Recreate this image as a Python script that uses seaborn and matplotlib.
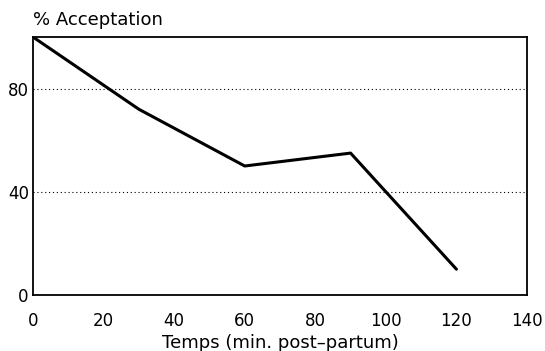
import matplotlib
matplotlib.use("Agg")
import matplotlib.pyplot as plt
import seaborn as sns
import pandas as pd

temps = [0, 30, 60, 90, 120]
acceptation = [100, 72, 50, 55, 10]
x_ticks = [0, 20, 40, 60, 80, 100, 120, 140]
y_ticks = [0, 40, 80]

sns.set_theme(style="white")
plt.rcParams['font.family'] = ['DejaVu Sans']

df = pd.DataFrame({"temps": temps, "acc": acceptation})

fig = plt.figure(figsize=(5.45, 3.51), dpi=100)
ax = fig.add_axes([33/545, 56/351, (527-33)/545, (295-37)/351])

sns.lineplot(data=df, x="temps", y="acc", ax=ax, color="black", linewidth=2.2)

ax.set_xlim(0, 140)
ax.set_ylim(0, 100)
ax.set_xticks(x_ticks)
ax.set_yticks(y_ticks)
ax.tick_params(axis="both", direction="in", length=4, width=1, color="black",
               labelsize=12, labelcolor="black", pad=3)
ax.tick_params(axis="x", pad=12)
for y in [40, 80]:
    ax.axhline(y, color="black", linestyle=(0, (1, 2.5)), linewidth=0.8, zorder=0)

for s in ax.spines.values():
    s.set_visible(True)
    s.set_color("black")
    s.set_linewidth(1.3)

ax.set_xlabel("Temps (min. post\u2013partum)", fontsize=13, color="black", labelpad=3)
ax.set_ylabel("")
ax.text(0, 1.03, "% Acceptation", transform=ax.transAxes, fontsize=13,
        color="black", ha="left", va="bottom")

fig.savefig("out.png", dpi=100)
